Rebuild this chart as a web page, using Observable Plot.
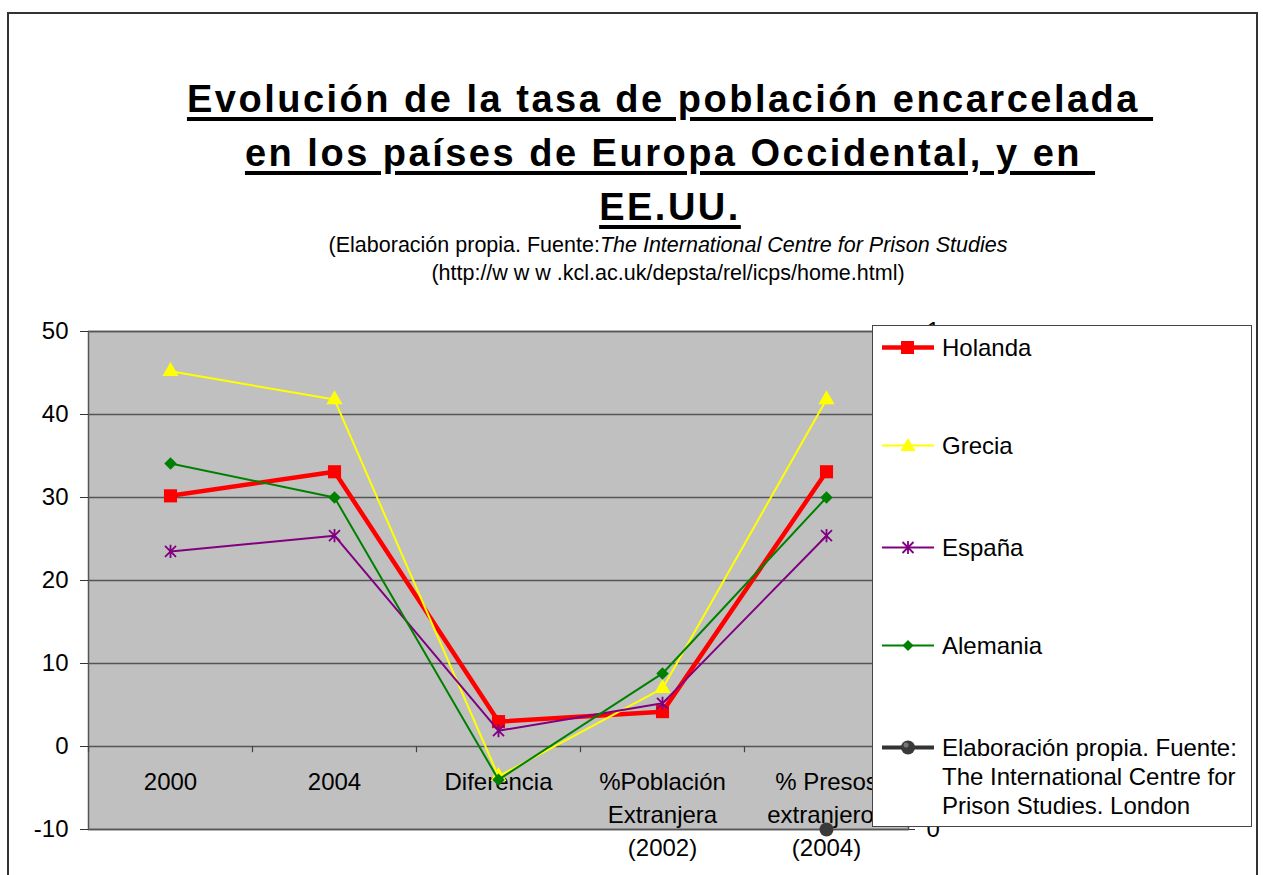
<!DOCTYPE html>
<html>
<head>
<meta charset="utf-8">
<script src="https://cdn.jsdelivr.net/npm/d3@7"></script>
<script src="https://cdn.jsdelivr.net/npm/@observablehq/plot@0.6"></script>
<style>
  html, body { margin:0; padding:0; background:#fff; }
  #page { position:relative; width:1263px; height:875px; overflow:hidden; font-family:"Liberation Sans", Arial, sans-serif; color:#000; }
  #border { position:absolute; left:7px; top:12px; width:1251px; height:900px; border:2px solid #333; box-sizing:border-box; }
  #title { position:absolute; left:0; top:72px; width:1340px; text-align:center; font-weight:bold; font-size:38px; line-height:54px; letter-spacing:2.5px; }
  #title div span { text-decoration:underline; text-decoration-thickness:4px; text-underline-offset:5px; }
  #sub { position:absolute; left:0; top:231px; width:1336px; text-align:center; font-size:21.5px; line-height:28px; }
  #chart { position:absolute; left:0; top:300px; }
  #legend { position:absolute; left:872px; top:325px; width:380px; height:502px; box-sizing:border-box; border:1.5px solid #444; background:#fff; font-size:24px; }
  .item { position:absolute; left:8px; display:flex; align-items:flex-start; }
  .item svg { flex:none; }
  .item .lab { margin-left:7px; line-height:29px; white-space:nowrap; }
</style>
</head>
<body>
<div id="page">
  <div id="border"></div>
  <div id="title">
    <div><span>Evolución de la tasa de población encarcelada&nbsp;</span></div>
    <div><span>en los países de Europa Occidental, y en&nbsp;</span></div>
    <div><span>EE.UU.</span></div>
  </div>
  <div id="sub">
    <div>(Elaboración propia. Fuente:<i>The International Centre for Prison Studies</i></div>
    <div>(http://w w w .kcl.ac.uk/depsta/rel/icps/home.html)</div>
  </div>
  <div id="chart"></div>
  <div id="legend"></div>
</div>
<script>
// ---- data ----
const categories = ["2000", "2004", "Diferencia", "%Población\nExtranjera\n(2002)", "% Presos\nextranjeros\n(2004)"];
const holanda  = [30.2, 33.1, 3.0, 4.2, 33.1];
const grecia   = [45.2, 41.8, -3.6, 7.0, 41.8];
const espana   = [23.5, 25.4, 1.9, 5.2, 25.4];
const alemania = [34.1, 30.0, -4.0, 8.8, 30.0];
const fuente   = [null, null, null, null, 0]; // secondary axis (0–1)
const yTicks = [-10, 0, 10, 20, 30, 40, 50];
const y2Ticks = [0, 1];
const seriesNames = ["Holanda", "Grecia", "España", "Alemania"];
const fuenteName = "Elaboración propia. Fuente:\nThe International Centre for\nPrison Studies. London";

// ---- build ----
const sec = d3.scaleLinear().domain([0, 1]).range([-10, 50]);
const starSymbol = {
  draw(ctx, size) {
    const r = Math.sqrt(size / Math.PI);
    ctx.moveTo(-r, -r); ctx.lineTo(r, r);
    ctx.moveTo(-r, r); ctx.lineTo(r, -r);
    ctx.moveTo(0, -r * 1.2); ctx.lineTo(0, r * 1.2);
  }
};
const styles = {
  "Holanda":  {color: "#ff0000", width: 4.5, symbol: "square", r: 7.4, fill: "#ff0000"},
  "Grecia":   {color: "#ffff00", width: 2, symbol: "triangle", r: 6, fill: "#ffff00"},
  "España":   {color: "#800080", width: 2, symbol: starSymbol, r: 5.5, fill: "none"},
  "Alemania": {color: "#008000", width: 2, symbol: "diamond2", r: 5.6, fill: "#008000"}
};
const valuesOf = {"Holanda": holanda, "Grecia": grecia, "España": espana, "Alemania": alemania};
const rows = name => valuesOf[name].map((v, i) => ({name, i, v}));
const fuenteRows = fuente.map((v, i) => ({i, v})).filter(d => d.v != null);
const boundaries = d3.range(categories.length + 1).map(k => k - 0.5);

const marks = [
  Plot.frame({fill: "#c0c0c0"}),
  Plot.ruleY(yTicks, {stroke: "#555", strokeWidth: 1.5}),
  Plot.frame({stroke: "#555", strokeWidth: 1.5}),
  Plot.axisY(yTicks, {anchor: "left", label: null, tickSize: 8, tickPadding: 12, tickFormat: d => String(d), stroke: "#333"}),
  Plot.axisY(y2Ticks.map(t => sec(t)), {anchor: "right", label: null, tickSize: 6, tickPadding: 12, tickFormat: d => String(Math.round(sec.invert(d))), stroke: "#333"}),
  Plot.ruleX(boundaries, {x: d => d, y1: 0, y2: -0.75, stroke: "#444", strokeWidth: 1.2}),
  Plot.text(categories, {x: (d, i) => i, y: 0, text: d => d, lineAnchor: "top", dy: 20, lineHeight: 1.375, fontSize: 24})
];
for (const name of seriesNames) {
  const s = styles[name];
  marks.push(Plot.line(rows(name), {x: "i", y: "v", stroke: s.color, strokeWidth: s.width}));
  marks.push(Plot.dot(rows(name), {x: "i", y: "v", symbol: () => s.symbol, r: s.r, fill: s.fill,
    stroke: s.fill === "none" ? s.color : null, strokeWidth: s.fill === "none" ? 1.8 : null}));
}
marks.push(Plot.dot(fuenteRows, {x: "i", y: d => sec(d.v), r: 7, fill: "#3a3a3a"}));

const chart = Plot.plot({
  width: 1263, height: 575,
  marginLeft: 88, marginRight: 355, marginTop: 31, marginBottom: 46,
  style: {fontFamily: '"Liberation Sans", Arial, sans-serif', fontSize: "24px", color: "#000", background: "transparent", overflow: "visible"},
  x: {type: "linear", domain: [-0.5, categories.length - 0.5], axis: null, label: null},
  y: {domain: [yTicks[0], yTicks[yTicks.length - 1]], axis: null, label: null},
  symbol: {type: "identity"},
  marks
});
document.getElementById("chart").appendChild(chart);

// ---- legend ----
const legend = document.getElementById("legend");
const itemTops = [7, 105, 207, 305, 407];
function swatch(color, width, markerSvg) {
  return `<svg width="54" height="29" viewBox="0 0 54 29"><line x1="1" x2="53" y1="14.5" y2="14.5" stroke="${color}" stroke-width="${width}"/>${markerSvg}</svg>`;
}
const markers = {
  "Holanda": `<rect x="20" y="8" width="13" height="13" fill="#ff0000"/>`,
  "Grecia": `<path d="M27,7 L34.5,20 L19.5,20 Z" fill="#ffff00"/>`,
  "España": `<path d="M21.5,9 L32.5,20 M21.5,20 L32.5,9 M27,8 L27,21" stroke="#800080" stroke-width="1.8" fill="none"/>`,
  "Alemania": `<path d="M27,9 L32.5,14.5 L27,20 L21.5,14.5 Z" fill="#008000"/>`
};
seriesNames.forEach((name, k) => {
  const s = styles[name];
  const div = document.createElement("div");
  div.className = "item";
  div.style.top = itemTops[k] + "px";
  div.innerHTML = swatch(s.color, s.width, markers[name]) + `<div class="lab">${name}</div>`;
  legend.appendChild(div);
});
{
  const div = document.createElement("div");
  div.className = "item";
  div.style.top = itemTops[4] + "px";
  div.innerHTML = swatch("#333", 4, `<circle cx="27" cy="14.5" r="7" fill="#3a3a3a"/><circle cx="25" cy="12" r="2.5" fill="#777"/>`) +
    `<div class="lab">${fuenteName.split("\n").join("<br>")}</div>`;
  legend.appendChild(div);
}
</script>
</body>
</html>
